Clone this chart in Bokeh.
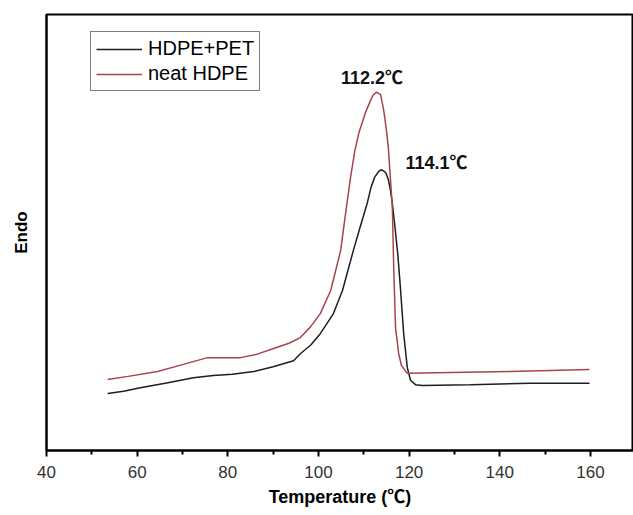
from bokeh.plotting import figure
from bokeh.embed import file_html
from bokeh.resources import INLINE
from bokeh.models import FixedTicker, Legend, LegendItem, Range1d
from bokeh.core.properties import value

# HDPE+PET (black)
t_blend = [53.5, 57.0, 60.7, 66.5, 72.4, 76.8, 81.0, 85.7, 90.0, 94.5, 96.0, 98.3, 100.4,
           103.3, 105.3, 107.7, 109.3, 110.8, 111.6, 112.4, 113.3, 113.9, 114.8, 115.4,
           115.9, 116.3, 116.8, 117.5, 118.1, 118.8, 119.6, 120.3, 121.4, 122.9,
           133.5, 146.8, 159.8]
y_blend = [13.1, 13.6, 14.4, 15.5, 16.7, 17.2, 17.5, 18.1, 19.2, 20.6, 22.2, 24.2, 26.8,
           31.4, 36.7, 45.9, 51.6, 56.9, 60.4, 62.7, 64.0, 64.4, 63.8, 62.2,
           59.6, 56.6, 52.0, 45.0, 37.0, 26.8, 19.0, 16.1, 15.1, 14.9,
           15.1, 15.4, 15.4]

# neat HDPE (red)
t_neat = [53.5, 58.0, 64.5, 70.0, 75.5, 82.8, 86.5, 90.1, 93.5, 96.0, 98.2, 100.4, 102.7,
          104.9, 106.1, 107.1, 108.0, 108.9, 110.4, 111.5, 112.1, 112.8, 113.7, 114.4,
          115.0, 115.4, 115.9, 116.3, 116.6, 117.0, 117.7, 118.3, 119.6,
          129.1, 142.4, 159.8]
y_neat = [16.3, 17.0, 18.1, 19.7, 21.3, 21.3, 22.1, 23.4, 24.6, 25.9, 28.3, 31.4, 36.7,
          45.9, 55.3, 62.8, 68.6, 72.8, 77.6, 80.3, 81.6, 82.2, 81.6, 78.0,
          73.4, 69.6, 61.9, 55.8, 42.0, 28.2, 22.2, 19.5, 17.7,
          17.9, 18.1, 18.6]

series_names = ["HDPE+PET", "neat HDPE"]
peak_labels = ["112.2\u2103", "114.1\u2103"]
x_ticks = [40, 60, 80, 100, 120, 140, 160]
x_minor = [50, 70, 90, 110, 130, 150, 170]

FONT = "Liberation Sans, Noto Sans CJK SC"

p = figure(width=633, height=514, output_backend="svg", toolbar_location=None,
           x_range=Range1d(40, 169.5), y_range=Range1d(0, 100),
           min_border_left=46, min_border_top=14, min_border_right=0, min_border_bottom=64)
p.background_fill_color = "white"
p.border_fill_color = "white"
p.grid.visible = False
p.outline_line_color = "black"
p.outline_line_width = 2

r1 = p.line(t_blend, y_blend, line_color="#1e1e1e", line_width=1.5)
r2 = p.line(t_neat, y_neat, line_color="#a8434d", line_width=1.5)

# x axis
xa = p.xaxis[0]
xa.ticker = FixedTicker(ticks=x_ticks, minor_ticks=x_minor)
xa.axis_line_color = "black"
xa.axis_line_width = 2
xa.major_tick_in = 0
xa.major_tick_out = 6
xa.minor_tick_in = 0
xa.minor_tick_out = 4
xa.major_tick_line_width = 2
xa.minor_tick_line_width = 2
xa.major_label_text_font = FONT
xa.major_label_text_font_size = "17px"
xa.major_label_text_color = "#333333"
xa.major_label_standoff = 9
xa.axis_label = "Temperature (\u2103)"
xa.axis_label_text_font = FONT
xa.axis_label_text_font_size = "18px"
xa.axis_label_text_font_style = "bold"
xa.axis_label_text_color = "black"
xa.axis_label_standoff = 6

# y axis
ya = p.yaxis[0]
ya.ticker = FixedTicker(ticks=[])
ya.axis_line_color = "black"
ya.axis_line_width = 2
ya.major_tick_line_color = None
ya.minor_tick_line_color = None
ya.axis_label = "Endo"
ya.axis_label_text_font = FONT
ya.axis_label_text_font_size = "17px"
ya.axis_label_text_font_style = "bold"
ya.axis_label_text_color = "black"
ya.axis_label_standoff = 16

# peak annotations
p.text(x=[111.8], y=[85.4], text=[peak_labels[0]], text_font=value(FONT),
       text_font_size="18px", text_font_style="bold", text_align="center",
       text_baseline="middle", text_color="#111111")
p.text(x=[119.2], y=[66.0], text=[peak_labels[1]], text_font=value(FONT),
       text_font_size="18px", text_font_style="bold", text_align="left",
       text_baseline="middle", text_color="#111111")

legend = Legend(items=[LegendItem(label=series_names[0], renderers=[r1]),
                       LegendItem(label=series_names[1], renderers=[r2])],
                location=(44, 359))
legend.label_text_font = FONT
legend.label_text_font_size = "20px"
legend.label_text_color = "black"
legend.glyph_width = 46
legend.glyph_height = 22
legend.label_height = 22
legend.spacing = 2
legend.padding = 5
legend.margin = 0
legend.label_standoff = 6
legend.border_line_color = "black"
legend.border_line_width = 1
legend.background_fill_alpha = 1
p.add_layout(legend, "center")

open("out.html", "w").write(file_html(p, INLINE))
